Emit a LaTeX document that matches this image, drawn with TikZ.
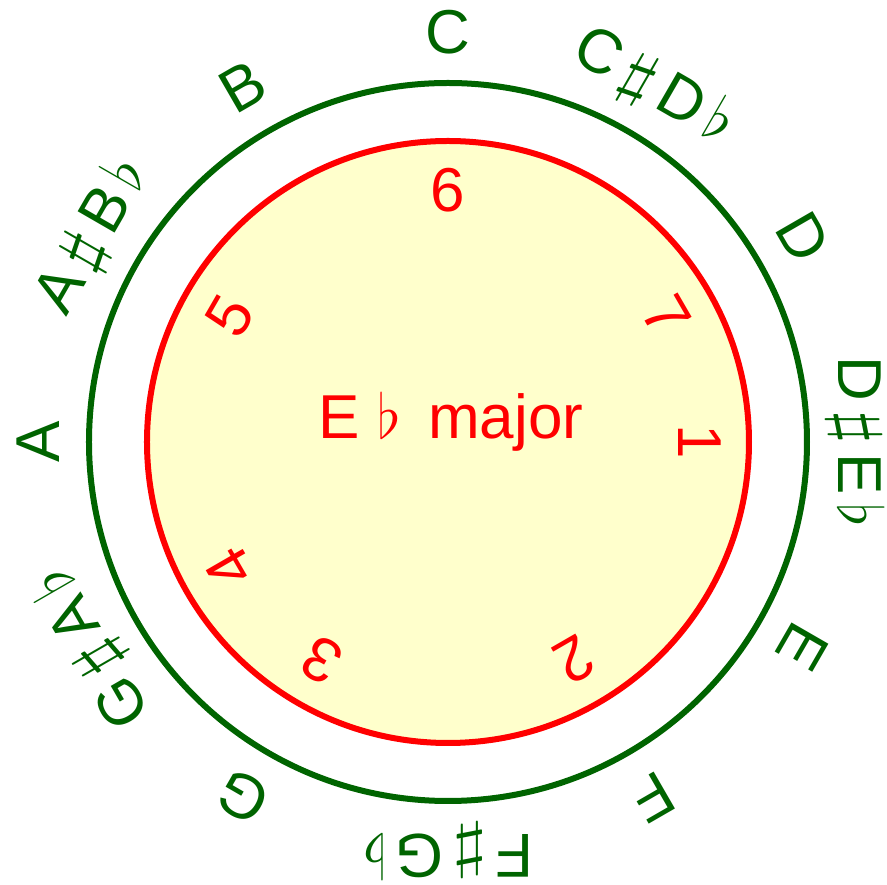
\RequirePackage{fix-cm}
\documentclass[tikz,border=0pt]{standalone}
\usepackage{fontspec}
\setmainfont{Liberation Sans}
\definecolor{keygreen}{RGB}{0,100,0}
\definecolor{keyred}{RGB}{255,0,0}
\definecolor{keyfill}{RGB}{255,255,204}
\newcommand{\shp}{\kern8pt\scalebox{1.5}[1]{$\sharp$}\kern8pt}
\newcommand{\flt}{\kern9pt$\flat$}
\tikzset{
  note/.style={text=keygreen,inner sep=0pt},
  degree/.style={text=keyred,inner sep=0pt},
}
\begin{document}
\begin{tikzpicture}[x=1pt,y=1pt,line width=6pt,font=\fontsize{62}{70}\selectfont]
  \useasboundingbox (-448,-443) rectangle (439,442);
  \coordinate (o) at (0,0);
  % circles
  \draw[keyred,fill=keyfill] (o) circle (301);
  \draw[keygreen] (o) circle (359);
  % note names
  \node[note,rotate=0]    (nc)  at (90:410)   {C};
  \node[note,rotate=-30]  (ncs) at (60:410)   {C\shp D\flt};
  \node[note,rotate=-60]  (nd)  at (30:410)   {D};
  \node[note,rotate=-90]  (nds) at (0:408)    {D\shp E\flt};
  \node[note,rotate=-120] (ne)  at (-30:410)  {E};
  \node[note,rotate=-150] (nf)  at (-60:410)  {F};
  \node[note,rotate=-180] (nfs) at (-90:410)  {F\shp G\flt};
  \node[note,rotate=-210] (ng)  at (-120:410) {G};
  \node[note,rotate=-240] (ngs) at (-150:410) {G\shp A\flt};
  \node[note,rotate=90]   (na)  at (180:410)  {A};
  \node[note,rotate=60]   (nas) at (150:410)  {A\shp B\flt};
  \node[note,rotate=30]   (nb)  at (120:410)  {B};
  % scale degrees
  \node[degree,rotate=-90]  (deg1) at (0:252)    {1};
  \node[degree,rotate=-150] (deg2) at (-60:252)  {2};
  \node[degree,rotate=-210] (deg3) at (-120:252) {3};
  \node[degree,rotate=-240] (deg4) at (-150:252) {4};
  \node[degree,rotate=60]   (deg5) at (150:252)  {5};
  \node[degree,rotate=0]    (deg6) at (90:252)   {6};
  \node[degree,rotate=-60]  (deg7) at (30:252)   {7};
  \node[degree] (key) at (3,20) {E $\flat$\kern10pt\ major};
\end{tikzpicture}
\end{document}
